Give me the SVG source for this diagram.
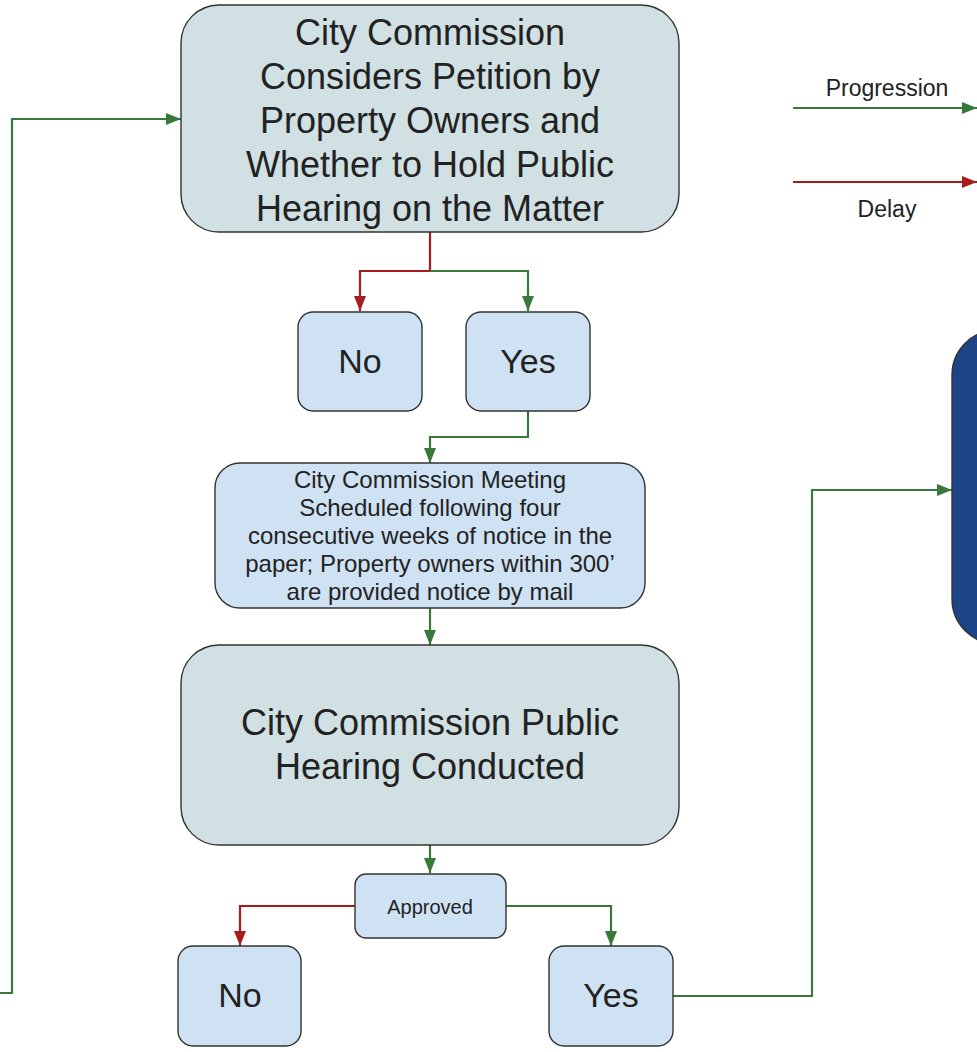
<svg xmlns="http://www.w3.org/2000/svg" width="977" height="1052" viewBox="0 0 977 1052">
<style>
  .node { stroke: #333333; stroke-width: 1.4; }
  .teal { fill: #d0e0e3; }
  .blue { fill: #cfe2f3; }
  .dark { fill: #1c4587; }
  .t { font-family: "Liberation Sans", Arial, sans-serif; fill: #222222; text-anchor: middle; }
  .big { font-size: 36px; }
  .yn { font-size: 34px; }
  .mid { font-size: 24px; }
  .small { font-size: 20px; }
  .leg { font-size: 23px; }
  .go { fill: none; stroke: #38783a; stroke-width: 2.2; }
  .stop { fill: none; stroke: #a61c1c; stroke-width: 2.2; }
</style>
<defs>
  <marker id="ag" markerUnits="userSpaceOnUse" markerWidth="16" markerHeight="14" refX="15" refY="7" orient="auto">
    <path d="M0,1 L15,7 L0,13 z" fill="#38783a"/>
  </marker>
  <marker id="ar" markerUnits="userSpaceOnUse" markerWidth="16" markerHeight="14" refX="15" refY="7" orient="auto">
    <path d="M0,1 L15,7 L0,13 z" fill="#a61c1c"/>
  </marker>
</defs>
<rect width="977" height="1052" fill="#ffffff"/>

<g id="connectors">
  <path class="stop" d="M430,232 V271 H360 V311" marker-end="url(#ar)"/>
  <path class="go" d="M430,271 H528 V311" marker-end="url(#ag)"/>
  <path class="go" d="M528,411 V437 H430 V463" marker-end="url(#ag)"/>
  <path class="go" d="M430,608 V645" marker-end="url(#ag)"/>
  <path class="go" d="M430,845 V873" marker-end="url(#ag)"/>
  <path class="stop" d="M355,906 H240 V946" marker-end="url(#ar)"/>
  <path class="go" d="M506,906 H611 V946" marker-end="url(#ag)"/>
  <path class="go" d="M673,996 H812 V490 H952" marker-end="url(#ag)"/>
  <path class="go" d="M0,993 H12 V119 H181" marker-end="url(#ag)"/>
</g>

<g id="legend">
  <path class="go" d="M793,108 H977" marker-end="url(#ag)"/>
  <text class="t leg" x="887" y="96">Progression</text>
  <path class="stop" d="M793,182 H977" marker-end="url(#ar)"/>
  <text class="t leg" x="887" y="217">Delay</text>
</g>

<g id="node-petition">
  <rect class="node teal" x="181" y="5" width="498" height="227" rx="38"/>
  <text class="t big" x="430" y="45">City Commission</text>
  <text class="t big" x="430" y="89">Considers Petition by</text>
  <text class="t big" x="430" y="133">Property Owners and</text>
  <text class="t big" x="430" y="177">Whether to Hold Public</text>
  <text class="t big" x="430" y="221">Hearing on the Matter</text>
</g>

<g id="node-no1">
  <rect class="node blue" x="298" y="312" width="124" height="99" rx="15"/>
  <text class="t yn" x="360" y="373">No</text>
</g>

<g id="node-yes1">
  <rect class="node blue" x="466" y="312" width="124" height="99" rx="15"/>
  <text class="t yn" x="528" y="373">Yes</text>
</g>

<g id="node-meeting">
  <rect class="node blue" x="215" y="463" width="430" height="145" rx="25"/>
  <text class="t mid" x="430" y="488">City Commission Meeting</text>
  <text class="t mid" x="430" y="516">Scheduled following four</text>
  <text class="t mid" x="430" y="544">consecutive weeks of notice in the</text>
  <text class="t mid" x="430" y="572">paper; Property owners within 300’</text>
  <text class="t mid" x="430" y="600">are provided notice by mail</text>
</g>

<g id="node-hearing">
  <rect class="node teal" x="181" y="645" width="498" height="200" rx="38"/>
  <text class="t big" x="430" y="735">City Commission Public</text>
  <text class="t big" x="430" y="779">Hearing Conducted</text>
</g>

<g id="node-approved">
  <rect class="node blue" x="355" y="874" width="151" height="64" rx="11"/>
  <text class="t small" x="430" y="914">Approved</text>
</g>

<g id="node-no2">
  <rect class="node blue" x="178" y="946" width="123" height="100" rx="15"/>
  <text class="t yn" x="240" y="1007">No</text>
</g>

<g id="node-yes2">
  <rect class="node blue" x="549" y="946" width="124" height="100" rx="15"/>
  <text class="t yn" x="611" y="1007">Yes</text>
</g>

<g id="node-next">
  <rect class="node dark" x="952" y="330" width="100" height="314" rx="45"/>
</g>
</svg>
